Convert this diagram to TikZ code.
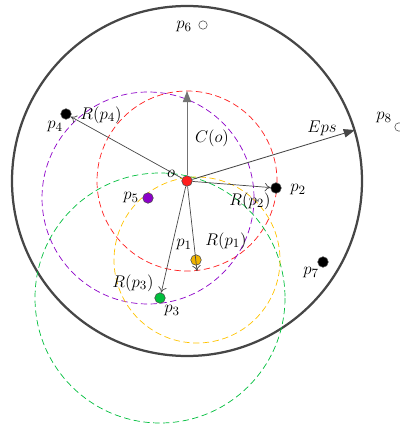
\documentclass[tikz,border=0pt]{standalone}
\usetikzlibrary{arrows.meta}

\definecolor{cred}{RGB}{255,30,30}
\definecolor{cpurple}{RGB}{140,0,200}
\definecolor{cgreen}{RGB}{0,190,60}
\definecolor{cyellow}{RGB}{255,195,0}
\definecolor{cdot}{RGB}{240,180,0}
\definecolor{cline}{RGB}{70,70,70}

\tikzset{
  dot/.style={circle,draw=black!70,inner sep=0pt,minimum size=7.5pt},
  hollow/.style={circle,draw=black!70,fill=white,inner sep=0pt,minimum size=6pt},
  lbl/.style={inner sep=1pt,font=\fontsize{13}{15}\selectfont},
  region/.style={dashed,dash pattern=on 4.5pt off 2.5pt,line width=0.5pt},
  radius/.style={draw=cline,line width=0.5pt,-{To[length=4pt,width=6pt]}},
  big/.style={draw=cline,line width=0.6pt,-{Triangle[length=8pt,width=6pt]}}
}

\begin{document}
\begin{tikzpicture}[x=0.025cm,y=-0.025cm]
\useasboundingbox (0,0) rectangle (400,427);

% Eps neighbourhood
\draw[cline,line width=1.6pt] (187,181) circle (175);

% reachability circles
\draw[region,cred] (187,181) circle (90);
\draw[region,cpurple] (148,198) circle (106);
\draw[region,cgreen] (160,298) circle (125);
\draw[region,cyellow] (197,260) circle (83);

% points
\node[dot,fill=cred] (o) at (187,181) {};
\node[dot,fill=cdot] (p1) at (196,260) {};
\node[dot,fill=black] (p2) at (276,188) {};
\node[dot,fill=cgreen] (p3) at (160,298) {};
\node[dot,fill=black] (p4) at (66,114) {};
\node[dot,fill=cpurple] (p5) at (148,198) {};
\node[hollow] (p6) at (203,25) {};
\node[dot,fill=black] (p7) at (323,262) {};
\node[hollow] (p8) at (399,127) {};

\coordinate (ctop) at (187,91);
\coordinate (ceps) at (355,130);
\coordinate (r1) at (197,271);

\draw[big,draw=black!55] (o) -- (ctop);
\draw[big] (o) -- (ceps);
\draw[radius] (o) -- (p4);
\draw[radius] (o) -- (p2);
\draw[radius] (o) -- (r1);
\draw[radius] (o) -- (p3);

% labels
\node[lbl] (lo) at (171,174) {$o$};
\node[lbl] (lp1) at (184,245) {$p_1$};
\node[lbl] (lp2) at (298,190) {$p_2$};
\node[lbl] (lp3) at (172,311) {$p_3$};
\node[lbl] (lp4) at (55,127) {$p_4$};
\node[lbl] (lp5) at (131,198) {$p_5$};
\node[lbl] (lp6) at (184,27) {$p_6$};
\node[lbl] (lp7) at (311,273) {$p_7$};
\node[lbl] (lp8) at (384,118) {$p_8$};
\node[lbl] (lco) at (212,138) {$C(o)$};
\node[lbl] (leps) at (322,128) {$Eps$};
\node[lbl] (lr1) at (226,241) {$R(p_1)$};
\node[lbl] (lr2) at (250,201) {$R(p_2)$};
\node[lbl] (lr3) at (133,283) {$R(p_3)$};
\node[lbl] (lr4) at (101,115) {$R(p_4)$};

\end{tikzpicture}
\end{document}
